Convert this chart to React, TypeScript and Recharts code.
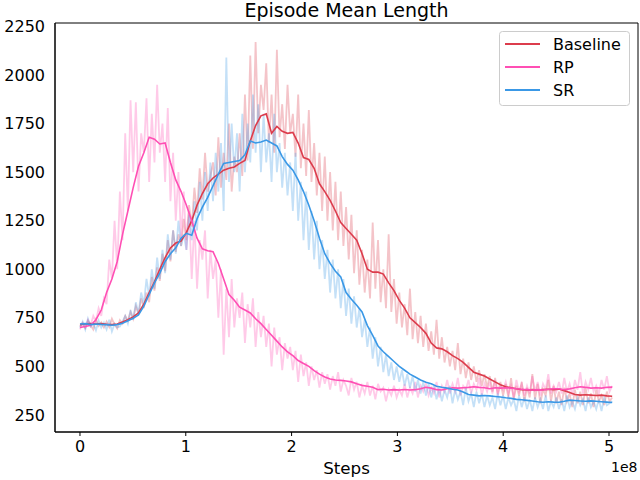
import React from 'react';
import { LineChart, Line, XAxis, YAxis, ReferenceArea } from 'recharts';

// x step between logged points, in units of 1e8 steps
const RAW_STEP = 0.02515;
const SMOOTH_STEP = 0.0503;

const baselineRaw = [
  705,725,698,735,712,690,740,708,726,700,
  730,702,745,715,695,738,720,760,735,780,
  745,810,770,850,800,880,830,960,890,1010,
  940,1080,990,1150,1040,1200,1090,1180,1120,1260,
  1150,1330,1220,1420,1290,1520,1360,1600,1400,1480,
  1550,1380,1680,1420,1600,1460,1750,1400,1580,1500,
  1700,1480,1900,1560,2100,1620,2170,1700,1950,1820,
  2060,1650,1900,1600,2130,1680,1850,1620,1950,1700,
  1800,1580,1900,1520,1750,1480,1820,1450,1650,1380,
  1600,1300,1580,1250,1500,1200,1450,1150,1400,1120,
  1320,1050,1280,980,1200,920,1100,880,1050,850,
  1240,900,1150,830,1000,800,1180,780,950,720,
  880,700,820,660,900,640,780,620,760,600,
  720,580,680,560,740,540,650,520,600,500,
  580,480,620,460,540,440,520,430,500,420,
  480,400,460,390,450,370,440,360,420,350,
  410,340,440,330,400,350,420,320,390,340,
  460,330,410,310,380,350,430,320,400,310,
  370,300,390,320,360,290,380,310,370,300,
  390,310,360,290,380,320,350,300,370,320,340
];
const rpRaw = [
  690,720,700,740,710,760,730,800,760,850,
  820,1050,950,1250,1000,1400,1150,1700,1300,1870,
  1500,1860,1400,1700,1600,1880,1450,1800,1550,1950,
  1600,1750,1450,1830,1350,1600,1250,1500,1150,1400,
  1100,1300,950,1250,900,1150,1050,1200,850,1100,
  950,1050,750,1000,560,900,650,950,700,850,
  750,880,620,820,700,850,600,780,650,760,
  600,720,500,700,560,650,480,620,540,600,
  480,580,420,560,450,520,400,500,430,480,
  390,470,410,460,380,450,400,470,370,430,
  400,350,440,380,420,340,400,360,420,350,
  400,330,410,370,390,320,380,350,400,340,
  380,350,410,340,390,360,420,340,400,370,
  410,350,390,360,420,340,400,370,430,360,
  410,370,440,350,400,380,430,360,410,380,
  440,350,410,370,420,360,430,350,400,380,
  420,360,400,340,430,370,410,350,400,360,
  450,370,420,350,410,380,460,360,400,370,
  420,360,440,370,410,350,430,380,470,360,
  420,380,440,370,400,360,430,380,450,370,400
];
const srRaw = [
  700,730,690,745,705,720,685,735,700,725,
  690,740,680,720,700,705,730,760,720,790,
  740,830,770,880,820,950,860,1000,900,1060,
  950,1100,980,1180,1050,1200,1080,1250,1120,1180,
  1100,1280,1150,1350,1200,1450,1250,1500,1300,1550,
  1350,1600,1400,1650,1300,2090,1450,1750,1500,1700,
  1400,1800,1500,1750,1550,1900,1600,1850,1500,1800,
  1550,1700,1450,1800,1500,1650,1420,1600,1380,1550,
  1300,1600,1250,1450,1150,1400,1100,1300,1050,1250,
  1000,1150,950,1100,880,1050,850,1000,800,950,
  760,900,720,860,700,800,650,740,600,700,
  540,650,500,600,470,560,450,520,430,500,
  420,480,400,460,390,450,370,430,360,420,
  350,410,340,400,330,390,320,380,340,400,
  310,380,330,370,300,390,320,360,290,370,
  310,360,290,350,300,340,280,360,300,350,
  280,340,300,330,270,350,290,340,280,330,
  270,340,290,330,280,350,270,320,290,340,
  280,330,270,350,290,320,280,340,300,330,
  270,340,290,320,280,330,270,340,300,310,320
];

const baselineSmooth = [715,718,720,718,720,716,715,718,728,740,755,775,820,880,935,1000,1060,1110,1135,1145,1190,1250,1330,1390,1440,1470,1490,1510,1520,1527,1545,1560,1660,1740,1790,1800,1700,1735,1710,1700,1705,1650,1575,1565,1520,1440,1400,1355,1300,1240,1210,1180,1150,1080,1000,985,985,975,930,890,840,800,750,725,700,670,620,595,590,575,555,540,520,495,470,460,450,435,420,405,395,390,385,380,378,380,378,380,382,380,383,375,365,355,352,354,352,350,352,348,346];
const rpSmooth = [700,705,712,740,790,880,950,1040,1180,1300,1420,1530,1600,1680,1670,1645,1650,1550,1460,1400,1330,1250,1160,1105,1095,1090,1030,950,870,840,805,790,775,745,720,690,660,630,600,575,555,530,515,500,478,460,445,435,430,428,425,420,410,402,398,392,380,382,378,380,378,381,378,380,385,392,388,380,378,385,390,388,390,392,395,392,390,385,390,388,390,388,385,382,380,378,380,378,382,385,385,380,384,390,395,392,388,390,388,392,393];
const srSmooth = [718,720,715,718,716,715,712,715,722,735,748,765,810,870,930,980,1040,1080,1110,1160,1185,1175,1260,1320,1370,1430,1490,1545,1550,1555,1560,1590,1660,1650,1655,1665,1650,1635,1580,1540,1510,1460,1400,1330,1250,1160,1080,1030,990,960,880,845,815,780,710,660,605,575,550,525,500,480,460,445,430,418,410,398,392,388,382,378,368,355,352,348,350,348,345,342,338,335,330,328,325,322,318,315,318,316,315,320,326,324,322,320,322,320,318,316,314];

const xTicks = [0, 1, 2, 3, 4, 5];
const yTicks = [250, 500, 750, 1000, 1250, 1500, 1750, 2000, 2250];
const seriesNames = ['Baseline', 'RP', 'SR'];
const seriesColors = ['#dc3c4c', '#ff4fb4', '#3a98e6'];

const toRows = (vals: number[], step: number) => vals.map((y, i) => ({ x: i * step, y }));

const rawSets = [baselineRaw, rpRaw, srRaw].map((v) => toRows(v, RAW_STEP));
const smoothSets = [baselineSmooth, rpSmooth, srSmooth].map((v) => toRows(v, SMOOTH_STEP));

const FONT = '"DejaVu Sans", sans-serif';
const X_DOMAIN: [number, number] = [-0.236, 5.274];
const Y_DOMAIN: [number, number] = [162, 2268];

export default function App() {
  return (
    <div style={{ position: 'absolute', left: 0, top: 0, width: 640, height: 480, background: '#fff', fontFamily: FONT }}>
      <LineChart width={640} height={480} margin={{ top: 23, right: 2, bottom: 0, left: 0 }}>
        <XAxis
          dataKey="x"
          type="number"
          domain={X_DOMAIN}
          allowDataOverflow
          ticks={xTicks}
          tickFormatter={(v: number) => String(v)}
          height={48}
          tickSize={4}
          tickMargin={5}
          stroke="#000"
          tick={{ fill: '#000', fontSize: 16, fontFamily: FONT }}
          axisLine={{ stroke: '#000', strokeWidth: 1 }}
          tickLine={{ stroke: '#000' }}
        />
        <YAxis
          type="number"
          domain={Y_DOMAIN}
          allowDataOverflow
          ticks={yTicks}
          width={55}
          tickSize={0}
          tickMargin={10}
          tickLine={false}
          tick={{ fill: '#000', fontSize: 16, fontFamily: FONT }}
          axisLine={{ stroke: '#000', strokeWidth: 1 }}
        />
        <ReferenceArea
          x1={X_DOMAIN[0]}
          x2={X_DOMAIN[1]}
          y1={Y_DOMAIN[0]}
          y2={Y_DOMAIN[1]}
          fill="none"
          stroke="#000"
          strokeWidth={1}
          ifOverflow="visible"
        />
        {rawSets.map((rows, i) => (
          <Line
            key={'raw' + i}
            data={rows}
            dataKey="y"
            type="linear"
            stroke={seriesColors[i]}
            strokeOpacity={0.3}
            strokeWidth={1.8}
            dot={false}
            activeDot={false}
            isAnimationActive={false}
            legendType="none"
          />
        ))}
        {smoothSets.map((rows, i) => (
          <Line
            key={'smooth' + i}
            data={rows}
            dataKey="y"
            name={seriesNames[i]}
            type="linear"
            stroke={seriesColors[i]}
            strokeWidth={1.6}
            dot={false}
            activeDot={false}
            isAnimationActive={false}
          />
        ))}
      </LineChart>
      <svg width={640} height={480} style={{ position: 'absolute', left: 0, top: 0, pointerEvents: 'none' }}>
        <text x={346.5} y={17} textAnchor="middle" fontSize={19} fontFamily={FONT} fill="#000">Episode Mean Length</text>
        <text x={346.5} y={474} textAnchor="middle" fontSize={16.7} fontFamily={FONT} fill="#000">Steps</text>
        <text x={637.5} y={471.5} textAnchor="end" fontSize={14} fontFamily={FONT} fill="#000">1e8</text>
        <rect x={499.5} y={31.5} width={130} height={74} rx={3} fill="#fff" fillOpacity={0.8} stroke="#cccccc" strokeWidth={1} />
        {seriesNames.map((n, i) => (
          <g key={n}>
            <line x1={505} x2={540} y1={44 + i * 23} y2={44 + i * 23} stroke={seriesColors[i]} strokeWidth={1.8} />
            <text x={553} y={44 + i * 23 + 5.8} fontSize={16} fontFamily={FONT} fill="#000">{n}</text>
          </g>
        ))}
      </svg>
    </div>
  );
}
